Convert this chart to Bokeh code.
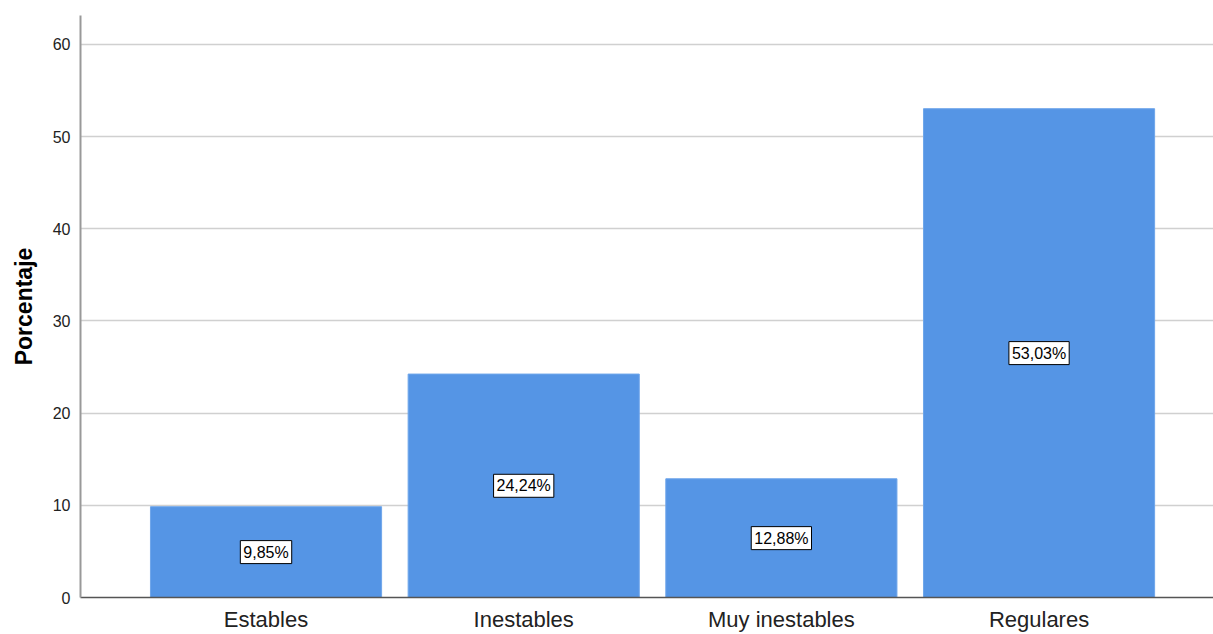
from bokeh.plotting import figure
from bokeh.models import Range1d, FixedTicker, Label
from bokeh.embed import file_html
from bokeh.resources import INLINE

categories = ["Estables", "Inestables", "Muy inestables", "Regulares"]
percentages = [9.85, 24.24, 12.88, 53.03]
value_labels = ["9,85%", "24,24%", "12,88%", "53,03%"]
y_ticks = [0, 10, 20, 30, 40, 50, 60]

xs = list(range(len(categories)))

p = figure(width=1213, height=634, output_backend="svg", toolbar_location=None,
           x_range=Range1d(-0.72, 3.677), y_range=Range1d(0, 63.14),
           min_border_left=80, min_border_right=0, min_border_top=15, min_border_bottom=36)
p.outline_line_color = None
p.background_fill_color = "white"

p.vbar(x=xs, top=percentages, width=0.897, fill_color="#5595e5", line_color="#6fa6ea", line_width=1)

for x, v, t in zip(xs, percentages, value_labels):
    p.add_layout(Label(x=x, y=v / 2, text=t, text_align="center", text_baseline="middle",
                       text_font="Liberation Sans", text_font_size="16px", text_color="black",
                       background_fill_color="white", border_line_color="black",
                       border_line_width=1, padding=3))

# x axis
p.xaxis.ticker = FixedTicker(ticks=xs)
p.xaxis.major_label_overrides = {i: c for i, c in zip(xs, categories)}
p.xaxis.major_tick_line_color = None
p.xaxis.minor_tick_line_color = None
p.xaxis.major_label_standoff = 3
p.xaxis.major_label_text_font = "Liberation Sans"
p.xaxis.major_label_text_font_size = "22px"
p.xaxis.major_label_text_color = "#222222"
p.xaxis.axis_line_color = "#555555"
p.xaxis.axis_line_width = 1.5

# y axis
p.yaxis.ticker = FixedTicker(ticks=y_ticks)
p.yaxis.major_tick_line_color = None
p.yaxis.minor_tick_line_color = None
p.yaxis.major_label_standoff = 4
p.yaxis.major_label_text_font = "Liberation Sans"
p.yaxis.major_label_text_font_size = "16px"
p.yaxis.major_label_text_color = "#222222"
p.yaxis.axis_line_color = "#999999"
p.yaxis.axis_line_width = 2
p.yaxis.axis_label = "Porcentaje"
p.yaxis.axis_label_text_font = "Liberation Sans"
p.yaxis.axis_label_text_font_style = "bold"
p.yaxis.axis_label_text_font_size = "23px"
p.yaxis.axis_label_text_color = "black"
p.yaxis.axis_label_standoff = 13

p.xgrid.grid_line_color = None
p.ygrid.ticker = FixedTicker(ticks=y_ticks[1:])
p.ygrid.grid_line_color = "#d0d0d0"
p.ygrid.grid_line_width = 1.5

open("out.html", "w").write(file_html(p, INLINE))
